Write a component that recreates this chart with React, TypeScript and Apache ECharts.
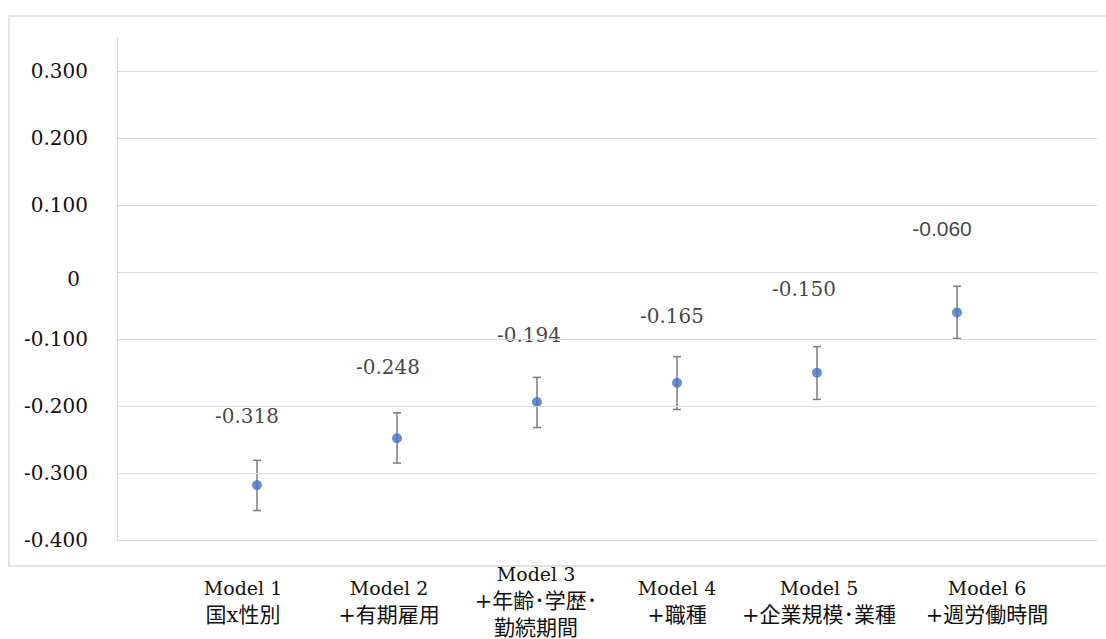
import React, { useEffect, useRef } from "react";
import * as echarts from "echarts";

// ---- data ----
const modelNames = ["Model 1", "Model 2", "Model 3", "Model 4", "Model 5", "Model 6"];
const modelDetails = [["国x性別"], ["+有期雇用"], ["+年齢･学歴･", "勤続期間"], ["+職種"], ["+企業規模･業種"], ["+週労働時間"]];
const modelX = [1, 2, 3, 4, 5, 6];
const estimates = [-0.318, -0.248, -0.194, -0.165, -0.15, -0.06];
const lowerCI = [-0.356, -0.285, -0.232, -0.205, -0.19, -0.099];
const upperCI = [-0.281, -0.21, -0.157, -0.126, -0.111, -0.021];
const gridTicks = [-0.3, -0.2, -0.1, 0, 0.1, 0.2, 0.3];

// ---- styling (not data) ----
const labelOffsets = [[-10, -69], [-9, -71], [-8, -67], [-5, -67], [-13, -84], [-15, -84]];
const labelFonts = ["DejaVu Serif", "DejaVu Serif", "DejaVu Serif", "DejaVu Serif", "DejaVu Serif", "Liberation Sans"];
const xLabelShift = [-14, -8, -1, 0, 2, 30];

const TEXT = "#111";
const GRID = "#d9d9d9";

export default function App() {
  const ref = useRef<HTMLDivElement>(null);
  useEffect(() => {
    if (!ref.current) return;
    const chart = echarts.init(ref.current, null, { renderer: "svg" });

    const rich: any = {
      z: { fontFamily: "DejaVu Serif", fontSize: 20, color: TEXT, padding: [14, 8, 0, 0] },
    };
    xLabelShift.forEach((s, i) => {
      const pad = s >= 0 ? [0, 0, 0, 2 * s] : [0, -2 * s, 0, 0];
      rich["a" + i] = { fontFamily: "DejaVu Serif", fontSize: 19, color: TEXT, lineHeight: 27, padding: pad };
      rich["b" + i] = {
        fontFamily: "'DejaVu Serif', 'Noto Sans CJK JP'",
        fontSize: 21,
        color: TEXT,
        lineHeight: 27,
        padding: pad,
      };
    });

    const option: any = {
      animation: false,
      backgroundColor: "#fff",
      graphic: [
        {
          type: "rect",
          silent: true,
          shape: { x: 9, y: 16, width: 1120, height: 550 },
          style: { fill: "none", stroke: GRID, lineWidth: 1.3 },
          z: -1,
        },
      ],
      grid: { left: 117, right: 9, top: 38, bottom: 99, containLabel: false },
      xAxis: {
        type: "value",
        min: 0,
        max: 7,
        interval: 1,
        axisLine: { show: true, onZero: false, lineStyle: { color: GRID, width: 1 } },
        axisTick: { show: false },
        splitLine: { show: false },
        axisLabel: {
          margin: 61,
          verticalAlign: "middle",
          align: "center",
          rich,
          formatter: (v: number) => {
            const i = modelX.indexOf(v);
            if (i < 0) return "";
            const lines = [`{a${i}|${modelNames[i]}}`].concat(modelDetails[i].map((d) => `{b${i}|${d}}`));
            return lines.join("\n");
          },
        },
      },
      yAxis: {
        type: "value",
        min: -0.4,
        max: 0.35,
        interval: 0.1,
        axisLine: { show: true, onZero: false, lineStyle: { color: GRID, width: 1 } },
        axisTick: { show: false },
        splitLine: { show: false },
        axisLabel: {
          margin: 29,
          showMaxLabel: false,
          fontFamily: "DejaVu Serif",
          fontSize: 20,
          color: TEXT,
          rich,
          formatter: (v: number) => (Math.abs(v) < 1e-9 ? "{z|0}" : v.toFixed(3)),
        },
      },
      series: [
        {
          type: "custom",
          z: 2,
          silent: true,
          data: modelX.map((x, i) => [x, lowerCI[i], upperCI[i]]),
          encode: { x: 0, y: [1, 2] },
          renderItem: (params: any, api: any) => {
            const x = api.value(0);
            const lo = api.coord([x, api.value(1)]);
            const hi = api.coord([x, api.value(2)]);
            const cap = 4;
            const style = { stroke: "#7a7a7a", lineWidth: 1.5 };
            return {
              type: "group",
              children: [
                { type: "line", shape: { x1: lo[0], y1: lo[1], x2: hi[0], y2: hi[1] }, style },
                { type: "line", shape: { x1: lo[0] - cap, y1: lo[1], x2: lo[0] + cap, y2: lo[1] }, style },
                { type: "line", shape: { x1: hi[0] - cap, y1: hi[1], x2: hi[0] + cap, y2: hi[1] }, style },
              ],
            };
          },
          markLine: {
            silent: true,
            symbol: ["none", "none"],
            label: { show: false },
            lineStyle: { color: GRID, type: "solid", width: 1 },
            data: gridTicks.map((v) => ({ yAxis: v })),
          },
        },
        {
          type: "scatter",
          z: 3,
          symbol: "circle",
          symbolSize: 10,
          itemStyle: { color: "#4472C4" },
          data: modelX.map((x, i) => ({
            value: [x, estimates[i]],
            label: {
              show: true,
              position: "inside",
              offset: labelOffsets[i],
              formatter: estimates[i].toFixed(3),
              fontFamily: labelFonts[i],
              fontSize: labelFonts[i] === "Liberation Sans" ? 21 : 20,
              color: TEXT,
            },
          })),
        },
      ],
    };
    chart.setOption(option);
    return () => chart.dispose();
  }, []);

  return (
    <div
      ref={ref}
      style={{ position: "fixed", left: 0, top: 0, width: 1106, height: 639, background: "#fff" }}
    />
  );
}
